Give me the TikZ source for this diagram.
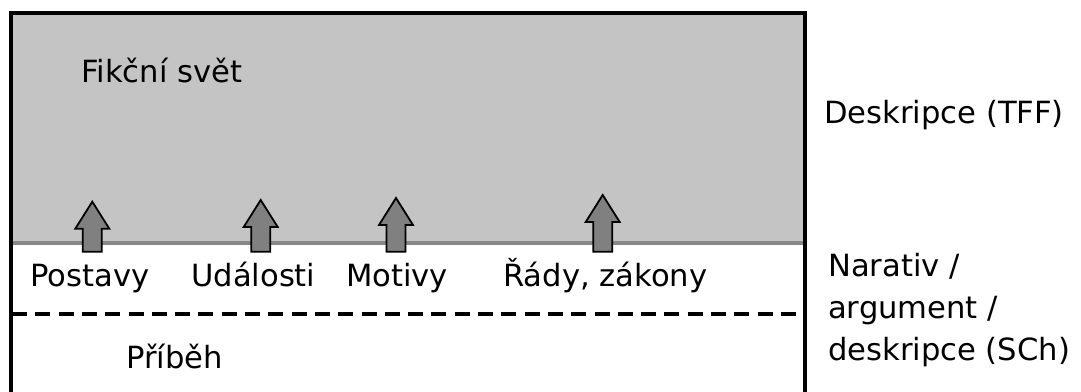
\documentclass[tikz,border=0pt]{standalone}
\usepackage{fontspec}
\setmainfont{DejaVu Sans}
\begin{document}
\begin{tikzpicture}[x=1pt,y=-1pt,
  lbl/.style={anchor=base west,inner sep=0pt,font=\fontsize{30.6}{42}\selectfont},
  frame/.style={line width=4pt,black},
  blockup/.style={fill=black!50,draw=black,line width=1.8pt,line join=miter},
  pics/uparr/.style={code={
    \draw[blockup] (0,0) -- (17,27) -- (9.5,27) -- (9.5,#1) -- (-9.5,#1) -- (-9.5,27) -- (-17,27) -- cycle;
  }}]
\useasboundingbox (0,0) rectangle (1081,391);
% gray area
\fill[black!23] (10.5,13) rectangle (804.5,243);
\draw[line width=4pt,black!47] (10.5,243) -- (804.5,243);
\draw[line width=4.5pt,dash pattern=on 15pt off 8.3pt] (12,314) -- (804.5,314);
% frame
\draw[frame,line join=miter] (10.5,395) -- (10.5,13) -- (804.5,13) -- (804.5,395);
% arrows
\pic at (92.3,201.7) {uparr=50};
\pic at (260.7,200) {uparr=51.7};
\pic at (396,198) {uparr=53.7};
\pic at (602.7,195) {uparr=56.7};
% texts
\node[lbl] (fs) at (81,82) {Fikční svět};
\node[lbl] (po) at (30,286) {Postavy};
\node[lbl] (ud) at (191,286) {Události};
\node[lbl] (mo) at (346,286) {Motivy};
\node[lbl] (ra) at (503,286) {Řády, zákony};
\node[lbl] (pr) at (126,368) {Příběh};
\node[lbl] (de) at (824,123) {Deskripce (TFF)};
\node[lbl] (n1) at (828,276) {Narativ /};
\node[lbl] (n2) at (828,318) {argument /};
\node[lbl] (n3) at (828,360) {deskripce (SCh)};
\end{tikzpicture}
\end{document}
